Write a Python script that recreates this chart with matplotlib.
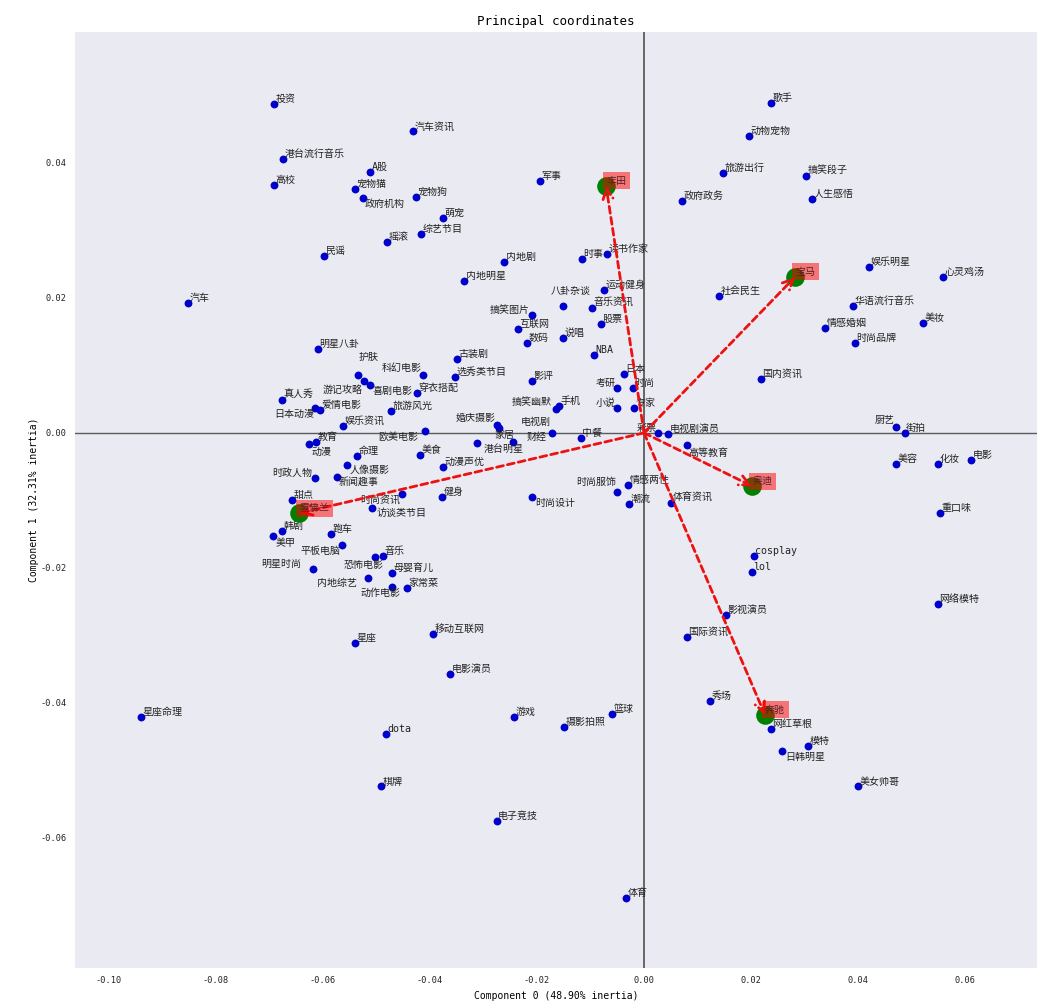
import matplotlib
matplotlib.use("Agg")
import matplotlib.pyplot as plt

plt.rcParams['font.family'] = ['DejaVu Sans Mono', 'Noto Sans CJK SC']
plt.rcParams['axes.unicode_minus'] = False

# ---------------- data ----------------
labels = [
    "投资", "港台流行音乐", "高校", "A股", "宠物猫", "政府机构", "摇滚", "民谣", "汽车",
    "汽车资讯", "军事", "宠物狗", "萌宠", "综艺节目", "内地剧", "时事", "读书作家", "内地明星",
    "运动健身", "八卦杂谈", "音乐资讯", "搞笑图片", "股票", "互联网", "说唱", "数码", "NBA",
    "古装剧", "科幻电影", "选秀类节目", "影评", "日本", "考研", "时尚", "小说", "专家",
    "搞笑幽默", "手机", "家居", "婚庆摄影", "电视剧", "财经", "港台明星", "中餐", "彩票",
    "电视剧演员", "高等教育", "情感两性", "时尚服饰", "潮流", "体育资讯", "时尚设计", "动漫声优",
    "明星八卦", "护肤", "游记攻略", "喜剧电影", "穿衣搭配", "真人秀", "日本动漫", "爱情电影",
    "旅游风光", "娱乐资讯", "欧美电影", "教育", "动漫", "命理", "美食", "人像摄影", "时政人物",
    "新闻趣事", "健身", "时尚资讯", "甜点", "访谈类节目", "韩剧", "美甲", "跑车", "平板电脑",
    "音乐", "恐怖电影", "明星时尚", "母婴育儿", "内地综艺", "动作电影", "家常菜", "移动互联网",
    "星座", "电影演员", "星座命理", "dota", "棋牌", "电子竞技", "游戏", "摄影拍照", "篮球",
    "体育", "秀场", "网红草根", "模特", "日韩明星", "美女帅哥", "国际资讯", "影视演员",
    "cosplay", "lol", "网络模特", "重口味", "美容", "化妆", "电影", "厨艺", "街拍", "国内资讯",
    "社会民生", "华语流行音乐", "美妆", "情感婚姻", "时尚品牌", "娱乐明星", "心灵鸡汤", "歌手",
    "动物宠物", "旅游出行", "搞笑段子", "政府政务", "人生感悟",
]
comp0 = [
    -0.0691, -0.0674, -0.0691, -0.0512, -0.0540, -0.0525, -0.0480, -0.0598, -0.0852,
    -0.0431, -0.0194, -0.0426, -0.0375, -0.0416, -0.0261, -0.0116, -0.0069, -0.0336,
    -0.0075, -0.0151, -0.0097, -0.0209, -0.0080, -0.0235, -0.0151, -0.0218, -0.0093,
    -0.0349, -0.0413, -0.0353, -0.0209, -0.0037, -0.0050, -0.0021, -0.0050, -0.0019,
    -0.0164, -0.0159, -0.0271, -0.0275, -0.0172, -0.0245, -0.0312, -0.0118, 0.0026,
    0.0045, 0.0080, -0.0030, -0.0050, -0.0028, 0.0050, -0.0209, -0.0375,
    -0.0609, -0.0534, -0.0523, -0.0512, -0.0424, -0.0676, -0.0614, -0.0605,
    -0.0472, -0.0562, -0.0409, -0.0613, -0.0626, -0.0536, -0.0418, -0.0555, -0.0614,
    -0.0573, -0.0377, -0.0452, -0.0657, -0.0508, -0.0676, -0.0693, -0.0585, -0.0564,
    -0.0487, -0.0502, -0.0618, -0.0471, -0.0515, -0.0471, -0.0443, -0.0394,
    -0.0540, -0.0362, -0.0939, -0.0482, -0.0491, -0.0275, -0.0243, -0.0149, -0.0060,
    -0.0034, 0.0123, 0.0237, 0.0306, 0.0258, 0.0400, 0.0080, 0.0153,
    0.0205, 0.0202, 0.0549, 0.0553, 0.0471, 0.0549, 0.0611, 0.0471, 0.0487, 0.0218,
    0.0140, 0.0390, 0.0521, 0.0338, 0.0394, 0.0420, 0.0558, 0.0237,
    0.0196, 0.0148, 0.0303, 0.0071, 0.0314,
]
comp1 = [
    0.0487, 0.0406, 0.0367, 0.0387, 0.0361, 0.0348, 0.0283, 0.0262, 0.0193,
    0.0447, 0.0373, 0.0350, 0.0319, 0.0295, 0.0253, 0.0258, 0.0265, 0.0225,
    0.0212, 0.0188, 0.0185, 0.0175, 0.0161, 0.0154, 0.0141, 0.0133, 0.0116,
    0.0110, 0.0086, 0.0083, 0.0077, 0.0087, 0.0067, 0.0067, 0.0037, 0.0037,
    0.0036, 0.0040, 0.0007, 0.0012, 0.0000, -0.0013, -0.0015, -0.0007, 0.0000,
    -0.0001, -0.0018, -0.0077, -0.0087, -0.0105, -0.0104, -0.0095, -0.0050,
    0.0124, 0.0086, 0.0077, 0.0071, 0.0059, 0.0049, 0.0037, 0.0034,
    0.0033, 0.0010, 0.0003, -0.0013, -0.0016, -0.0034, -0.0033, -0.0047, -0.0067,
    -0.0065, -0.0095, -0.0090, -0.0099, -0.0111, -0.0145, -0.0153, -0.0150, -0.0166,
    -0.0182, -0.0184, -0.0201, -0.0207, -0.0215, -0.0228, -0.0230, -0.0298,
    -0.0311, -0.0357, -0.0421, -0.0446, -0.0524, -0.0575, -0.0421, -0.0436, -0.0416,
    -0.0689, -0.0397, -0.0439, -0.0464, -0.0471, -0.0524, -0.0302, -0.0270,
    -0.0182, -0.0206, -0.0253, -0.0119, -0.0046, -0.0046, -0.0040, 0.0009, 0.0000, 0.0080,
    0.0203, 0.0188, 0.0163, 0.0156, 0.0133, 0.0246, 0.0231, 0.0489,
    0.0440, 0.0385, 0.0381, 0.0344, 0.0347,
]

groups = ["丰田", "宝马", "奥迪", "奔驰", "雪佛兰"]
group_c0 = [-0.0071, 0.0282, 0.0202, 0.0226, -0.0644]
group_c1 = [0.0366, 0.0231, -0.0079, -0.0418, -0.0119]

x_ticks = [-0.10, -0.08, -0.06, -0.04, -0.02, 0.00, 0.02, 0.04, 0.06]
y_ticks = [-0.06, -0.04, -0.02, 0.00, 0.02, 0.04]

# label placement (offset in points, alignment)
DEFAULT_OFF = (1, 0, 'left', 'bottom')
label_offsets = {
    "搞笑图片": (-2, 0, 'right', 'bottom'),
    "考研": (-1, 0, 'right', 'bottom'),
    "小说": (-1, 0, 'right', 'bottom'),
    "厨艺": (-1, 1, 'right', 'bottom'),
    "游记攻略": (-1, -3, 'right', 'top'),
    "日本动漫": (-1, -1, 'right', 'top'),
    "时政人物": (-2, 0, 'right', 'bottom'),
    "明星时尚": (-9, 0, 'right', 'bottom'),
    "时尚服饰": (-1, 3, 'right', 'bottom'),
    "电视剧": (-1, 4, 'right', 'bottom'),
    "搞笑幽默": (-3, 1, 'right', 'bottom'),
    "欧美电影": (-5, -1, 'right', 'top'),
    "时尚资讯": (-1, -1, 'right', 'top'),
    "平板电脑": (-1, -1, 'right', 'top'),
    "内地综艺": (-8, 0, 'right', 'top'),
    "八卦杂谈": (-9, 7, 'left', 'bottom'),
    "恐怖电影": (6, -2, 'right', 'top'),
    "动作电影": (6, -1, 'right', 'top'),
    "高等教育": (1, -2, 'left', 'top'),
    "日韩明星": (2, -1, 'left', 'top'),
    "动漫": (2, -2, 'left', 'top'),
    "人像摄影": (2, 0, 'left', 'top'),
    "新闻趣事": (1, -1, 'left', 'top'),
    "访谈类节目": (3, 0, 'left', 'top'),
    "港台明星": (5, -1, 'left', 'top'),
    "时尚设计": (2, -1, 'left', 'top'),
    "财经": (10, 0, 'left', 'bottom'),
    "政府机构": (1, -1, 'left', 'top'),
    "美甲": (2, -1, 'left', 'top'),
    "家居": (-3, -1, 'left', 'top'),
    "婚庆摄影": (-1, 1, 'right', 'bottom'),
    "彩票": (-1, 0, 'right', 'bottom'),
    "护肤": (0, 9, 'left', 'bottom'),
    "科幻电影": (-1, 1, 'right', 'bottom'),
    "喜剧电影": (2, -1, 'left', 'top'),
}

# ---------------- figure ----------------
fig = plt.figure(figsize=(10.56, 10.07), dpi=100)
ax = fig.add_axes([0.0710, 0.0387, 0.9110, 0.9295])
ax.set_facecolor('#eaeaf2')
for sp in ax.spines.values():
    sp.set_visible(False)

ax.axhline(0, color='#5a5a5a', lw=1.0, zorder=1)
ax.axvline(0, color='#5a5a5a', lw=1.3, zorder=1)

ax.scatter(comp0, comp1, s=32, color='#0000cd', zorder=3, linewidths=0)
for name, xv, yv in zip(labels, comp0, comp1):
    dx, dy, ha, va = label_offsets.get(name, DEFAULT_OFF)
    ax.annotate(name, (xv, yv), xytext=(dx, dy), textcoords='offset points',
                ha=ha, va=va, fontsize=7.2, color='#222222', zorder=4)

ax.scatter(group_c0, group_c1, s=180, color='green', zorder=5, linewidths=0)
for name, xv, yv in zip(groups, group_c0, group_c1):
    ax.annotate('', xy=(xv, yv), xytext=(0, 0),
                arrowprops=dict(arrowstyle='->', color='#ee1111', lw=2.0,
                                linestyle=(0, (2.5, 1.5)), shrinkA=0, shrinkB=0,
                                mutation_scale=18),
                zorder=6)
    ax.annotate(name, (xv, yv), xytext=(0, 0), textcoords='offset points',
                ha='left', va='bottom', fontsize=7.2, color='#552222', zorder=7,
                bbox=dict(boxstyle='square,pad=0.35', facecolor='red',
                          edgecolor='none', alpha=0.5))

ax.set_xlim(-0.1063, 0.0734)
ax.set_ylim(-0.0793, 0.0594)
ax.set_xticks(x_ticks)
ax.set_yticks(y_ticks)
ax.set_xticklabels([f"{t:.2f}" for t in x_ticks])
ax.set_yticklabels([f"{t:.2f}" for t in y_ticks])
ax.tick_params(length=0, labelsize=6.2, pad=6, colors='#222222')

ax.set_xlabel("Component 0 (48.90% inertia)", fontsize=7, labelpad=4)
ax.set_ylabel("Component 1 (32.31% inertia)", fontsize=7, labelpad=1)
ax.set_title("Principal coordinates", fontsize=9, pad=5)

fig.savefig("out.png", dpi=100)
